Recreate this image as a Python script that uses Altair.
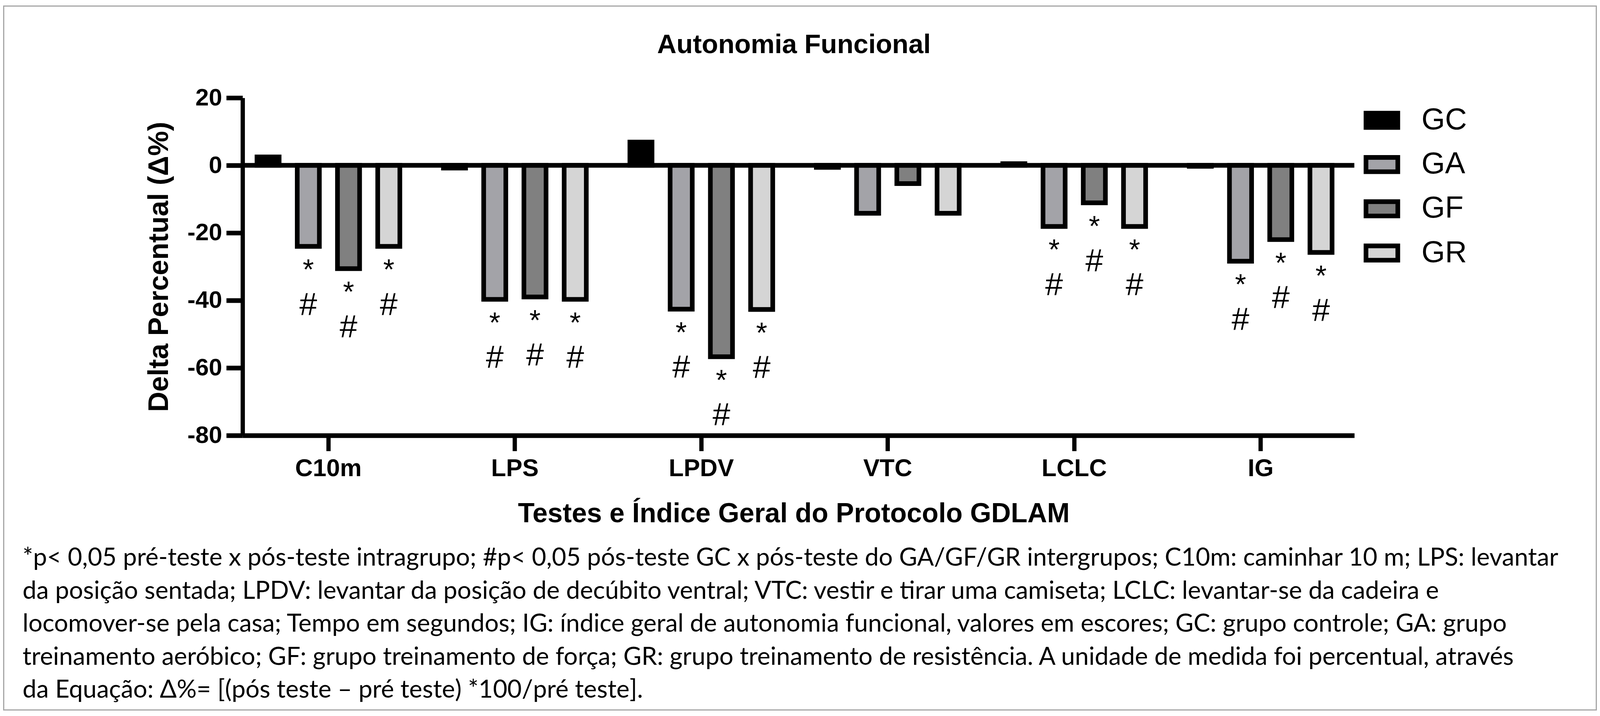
import altair as alt
import pandas as pd

# ---------------- data ----------------
tests = ["C10m", "LPS", "LPDV", "VTC", "LCLC", "IG"]
groups = ["GC", "GA", "GF", "GR"]
gc_values = [2.5, -0.8, 6.9, -0.6, 0.5, -0.3]
ga_values = [-24.0, -39.7, -42.6, -14.2, -18.1, -28.4]
gf_values = [-30.6, -39.0, -56.7, -5.4, -11.1, -22.0]
gr_values = [-24.0, -39.7, -42.7, -14.2, -18.1, -25.8]
significant_groups = ["GA", "GF", "GR"]
significant_tests = ["C10m", "LPS", "LPDV", "LCLC", "IG"]
group_colors = ["#000000", "#a3a3a8", "#808080", "#d5d5d5"]
y_ticks = [-80, -60, -40, -20, 0, 20]

title_text = "Autonomia Funcional"
y_title = "Delta Percentual (Δ%)"
x_title = "Testes e Índice Geral do Protocolo GDLAM"
caption_lines = [
    "*p< 0,05 pré-teste x pós-teste intragrupo; #p< 0,05 pós-teste GC x pós-teste do GA/GF/GR intergrupos; C10m: caminhar 10 m; LPS: levantar",
    "da posição sentada; LPDV: levantar da posição de decúbito ventral; VTC: vestir e tirar uma camiseta; LCLC: levantar-se da cadeira e",
    "locomover-se pela casa; Tempo em segundos; IG: índice geral de autonomia funcional, valores em escores; GC: grupo controle; GA: grupo",
    "treinamento aeróbico; GF: grupo treinamento de força; GR: grupo treinamento de resistência. A unidade de medida foi percentual, através",
    "da Equação: Δ%= [(pós teste – pré teste) *100/pré teste].",
]

series = {"GC": gc_values, "GA": ga_values, "GF": gf_values, "GR": gr_values}
rows = []
for g in groups:
    for t, v in zip(tests, series[g]):
        rows.append({"test": t, "group": g, "value": v,
                     "sig": (g in significant_groups) and (t in significant_tests)})
df = pd.DataFrame(rows)
one = pd.DataFrame({"t": [title_text]})

# ---------------- layout ----------------
W, H = 2865, 870
FONT = "Liberation Sans"

x_enc = alt.X(
    "test:N", sort=tests,
    scale=alt.Scale(paddingInner=0.1, paddingOuter=0.0315, align=0.167),
    axis=alt.Axis(
        title=x_title, labelAngle=0, labelFontSize=63, labelFontWeight="bold",
        tickSize=40, tickWidth=11, domainWidth=12, labelPadding=15,
        titleFontSize=70, titleFontWeight="bold", titleX=1420, titleY=223,
        titleBaseline="alphabetic", titleAlign="center",
    ),
)
xoff_enc = alt.XOffset(
    "group:N", sort=groups,
    scale=alt.Scale(domain=groups, paddingInner=0.45, paddingOuter=0.31),
)
y_enc = alt.Y(
    "value:Q",
    scale=alt.Scale(domain=[-80, 20], nice=False, zero=False),
    axis=alt.Axis(
        title=y_title, values=y_ticks, labelExpr="toString(datum.value)",
        labelFontSize=62, labelFontWeight="bold",
        tickSize=42, tickWidth=12, domainWidth=11, labelPadding=11,
        titleFontSize=72, titleFontWeight="bold", titleX=-193, titleY=435,
        titleAngle=-90, titleBaseline="alphabetic", titleAlign="center",
    ),
)

base = alt.Chart(df)

bars = base.mark_bar(stroke="black", strokeWidth=12).encode(
    x=x_enc,
    xOffset=xoff_enc,
    y=y_enc,
    fill=alt.Fill(
        "group:N", sort=groups,
        scale=alt.Scale(domain=groups, range=group_colors),
        legend=alt.Legend(
            title=None, orient="none", legendX=2889, legendY=11,
            symbolType="M-1,-0.45H1V0.45H-1Z", symbolSize=6724,
            symbolStrokeWidth=12, symbolStrokeColor="black", symbolOpacity=1,
            labelFont=FONT, labelFontSize=78, labelColor="black",
            labelOffset=55, rowPadding=24, padding=0,
        ),
    ),
)

zero_line = alt.Chart(one).mark_rule(color="black", strokeWidth=12).encode(
    y=alt.datum(0)
)

sig = base.transform_filter("datum.sig")
stars = sig.mark_text(
    text="*", font=FONT, fontSize=74, baseline="alphabetic", align="center",
    dy=85, color="black",
).encode(x=x_enc, xOffset=xoff_enc, y=y_enc)

hashes = sig.mark_text(
    text="#", font=FONT, fontSize=82, baseline="alphabetic", align="center",
    dy=176, color="black",
).encode(x=x_enc, xOffset=xoff_enc, y=y_enc)

title = alt.Chart(one).mark_text(
    font=FONT, fontWeight="bold", fontSize=69, baseline="alphabetic",
    align="center", color="black",
).encode(x=alt.value(1421), y=alt.value(-115), text="t:N")

caption = alt.Chart(one).mark_text(
    text=caption_lines, font="Lato", fontSize=64, lineHeight=85,
    align="left", baseline="alphabetic", color="black",
).encode(x=alt.value(-567), y=alt.value(1206))

frame = alt.Chart(one).mark_rect(
    fill="transparent", stroke="#a6a6a6", strokeWidth=3
).encode(
    x=alt.value(-615.5), x2=alt.value(3488.5),
    y=alt.value(-236.5), y2=alt.value(1577.5),
)

chart = alt.layer(frame, bars, zero_line, stars, hashes, title, caption).properties(
    width=W, height=H,
    autosize=alt.AutoSizeParams(type="none"),
    padding={"left": 617, "top": 238, "right": 625, "bottom": 709},
    background="white",
).configure_view(stroke=None).configure_axis(
    grid=False, domainColor="black", tickColor="black", labelColor="black",
    titleColor="black", labelFont=FONT, titleFont=FONT,
)

chart.save("out.html", embed_options={"renderer": "svg", "actions": False})
